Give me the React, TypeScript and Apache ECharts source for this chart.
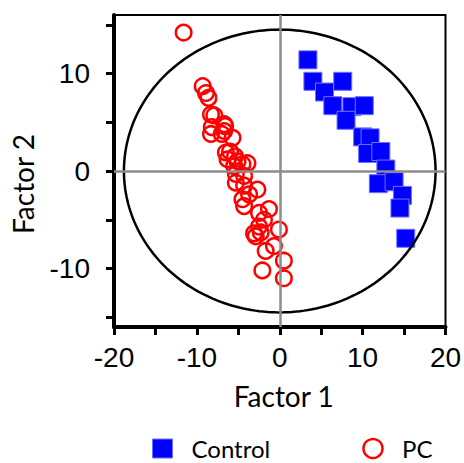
import React, { useEffect, useRef } from "react";
import * as echarts from "echarts";

// Control group scores [Factor 1, Factor 2]
const controlPoints: number[][] = [
  [3.4, 11.4],
  [4.0, 9.2],
  [7.6, 9.2],
  [5.4, 8.1],
  [6.4, 6.7],
  [8.7, 6.6],
  [10.2, 6.7],
  [8.0, 5.2],
  [10.0, 3.5],
  [10.9, 3.4],
  [10.6, 1.8],
  [12.2, 2.0],
  [12.8, 0.2],
  [11.9, -1.3],
  [13.8, -1.1],
  [14.8, -2.5],
  [14.5, -3.8],
  [15.2, -6.9],
];

// PC group scores [Factor 1, Factor 2]
const pcPoints: number[][] = [
  [-11.6, 14.2],
  [-9.3, 8.7],
  [-8.9, 8.0],
  [-8.6, 7.5],
  [-8.3, 5.8],
  [-7.9, 5.7],
  [-8.2, 4.5],
  [-6.7, 4.8],
  [-8.3, 3.8],
  [-6.6, 4.6],
  [-6.7, 4.1],
  [-7.0, 3.8],
  [-5.7, 3.4],
  [-6.5, 1.9],
  [-6.0, 2.0],
  [-5.4, 1.5],
  [-6.3, 1.2],
  [-5.1, 1.0],
  [-3.9, 0.8],
  [-5.5, 0.5],
  [-4.5, 0.7],
  [-5.3, -0.3],
  [-4.3, -0.5],
  [-5.3, -1.2],
  [-4.3, -1.5],
  [-2.7, -1.9],
  [-3.7, -2.4],
  [-4.5, -2.9],
  [-4.3, -3.6],
  [-2.5, -4.3],
  [-1.3, -3.9],
  [-1.9, -5.0],
  [-2.5, -5.7],
  [-0.1, -6.0],
  [-3.1, -6.4],
  [-2.9, -6.7],
  [-2.3, -6.3],
  [-0.7, -7.7],
  [-1.7, -8.2],
  [0.5, -9.2],
  [-2.1, -10.2],
  [0.5, -11.0],
];

// Confidence ellipse: centre and semi-axes (Factor 1, Factor 2)
const ellipseCenter: number[] = [0, 0];
const ellipseRadii: number[] = [18.8, 14.5];

// Axis ranges / ticks
const xRange: number[] = [-20, 20];
const yRange: number[] = [-16, 16];
const yTickRange: number[] = [-15, 15];
const tickStep = 5;
const labelStep = 10;

const seriesNames: string[] = ["Control", "PC"];
const axisTitles: string[] = ["Factor 1", "Factor 2"];

const tickFont = "Liberation Sans, Arial, sans-serif";
const titleFont = "Lato, Carlito, sans-serif";

export default function App() {
  const ref = useRef<HTMLDivElement>(null);

  useEffect(() => {
    if (!ref.current) return;
    const chart = echarts.init(ref.current, null, { renderer: "svg" });
    const labelFmt = (v: number) => (Math.abs(v % labelStep) < 1e-9 ? String(v) : "");

    const option: any = {
      animation: false,
      backgroundColor: "#fff",
      grid: [
        {
          left: 114,
          right: 18.5,
          top: 15,
          bottom: 136,
          show: true,
          borderColor: "#000",
          borderWidth: 2,
          backgroundColor: "transparent",
          outerBoundsMode: "none",
        },
        {
          left: 114,
          right: 18.5,
          top: 24.75,
          bottom: 145.75,
          show: false,
          outerBoundsMode: "none",
        },
      ],
      xAxis: [
        {
          gridIndex: 0,
          type: "value",
          min: xRange[0],
          max: xRange[1],
          interval: tickStep,
          axisLine: { onZero: false, lineStyle: { color: "#000", width: 4 } },
          axisTick: { show: true, length: 8, lineStyle: { color: "#000", width: 3 } },
          axisLabel: {
            formatter: labelFmt,
            margin: 16,
            fontSize: 28,
            fontFamily: tickFont,
            color: "#000",
          },
          splitLine: { show: false },
          name: axisTitles[0],
          nameLocation: "middle",
          nameGap: 55,
          nameTextStyle: {
            fontFamily: titleFont,
            fontSize: 28,
            color: "#000",
            padding: [0, 0, 0, 8],
          },
        },
        {
          gridIndex: 1,
          type: "value",
          show: false,
          min: xRange[0],
          max: xRange[1],
        },
      ],
      yAxis: [
        {
          gridIndex: 0,
          type: "value",
          min: yRange[0],
          max: yRange[1],
          axisLine: { onZero: false, lineStyle: { color: "#000", width: 4 } },
          axisTick: { show: false },
          axisLabel: { show: false },
          splitLine: { show: false },
        },
        {
          gridIndex: 1,
          type: "value",
          min: yTickRange[0],
          max: yTickRange[1],
          interval: tickStep,
          axisLine: { show: false, onZero: false },
          axisTick: { show: true, length: 8, lineStyle: { color: "#000", width: 3 } },
          axisLabel: {
            formatter: labelFmt,
            margin: 24,
            fontSize: 28,
            fontFamily: tickFont,
            color: "#000",
          },
          splitLine: { show: false },
        },
      ],
      legend: {
        left: 152,
        top: 436.5,
        padding: 0,
        itemWidth: 20,
        itemHeight: 19,
        itemGap: 92,
        textStyle: {
          fontFamily: titleFont,
          fontSize: 24,
          lineHeight: 24,
          color: "#000",
          padding: [0, 0, 0, 14],
        },
        data: [
          {
            name: seriesNames[0],
            icon: "rect",
            itemStyle: { color: "#0000ff", borderColor: "#7070ff", borderWidth: 1, opacity: 1 },
          },
          {
            name: seriesNames[1],
            icon: "circle",
            itemStyle: { color: "rgba(0,0,0,0)", borderColor: "#ff0000", borderWidth: 2.5, opacity: 1 },
          },
        ],
      },
      graphic: [
        {
          type: "text",
          x: 23,
          y: 184,
          rotation: Math.PI / 2,
          style: {
            text: axisTitles[1],
            font: `28px ${titleFont}`,
            fill: "#000",
            align: "center",
            verticalAlign: "middle",
          },
        },
      ],
      series: [
        {
          name: seriesNames[0],
          type: "scatter",
          xAxisIndex: 0,
          yAxisIndex: 0,
          symbol: "rect",
          symbolSize: 18,
          itemStyle: { color: "#0000ff", borderColor: "#7070ff", borderWidth: 1, opacity: 1 },
          data: controlPoints,
          z: 2,
        },
        {
          name: seriesNames[1],
          type: "scatter",
          xAxisIndex: 0,
          yAxisIndex: 0,
          symbol: "circle",
          symbolSize: 15.5,
          itemStyle: { color: "rgba(0,0,0,0)", borderColor: "#ff0000", borderWidth: 2.5, opacity: 1 },
          data: pcPoints,
          z: 2,
        },
        {
          name: "ellipse",
          type: "custom",
          xAxisIndex: 0,
          yAxisIndex: 0,
          silent: true,
          z: 3,
          data: [ellipseCenter],
          renderItem: (_params: any, api: any) => {
            const pts: number[][] = [];
            const n = 240;
            for (let i = 0; i <= n; i++) {
              const t = (i / n) * Math.PI * 2;
              pts.push(
                api.coord([
                  ellipseCenter[0] + ellipseRadii[0] * Math.cos(t),
                  ellipseCenter[1] + ellipseRadii[1] * Math.sin(t),
                ])
              );
            }
            return {
              type: "polyline",
              shape: { points: pts },
              style: { stroke: "#000", lineWidth: 2.5, fill: "none" },
            };
          },
          markLine: {
            silent: true,
            symbol: ["none", "none"],
            label: { show: false },
            lineStyle: { color: "#8c8c8c", type: "solid", width: 2.5 },
            data: [{ xAxis: 0 }, { yAxis: 0 }],
          },
        },
      ],
    };

    chart.setOption(option);
    return () => chart.dispose();
  }, []);

  return (
    <div
      ref={ref}
      style={{ position: "fixed", left: 0, top: 0, width: 464, height: 463 }}
    />
  );
}
